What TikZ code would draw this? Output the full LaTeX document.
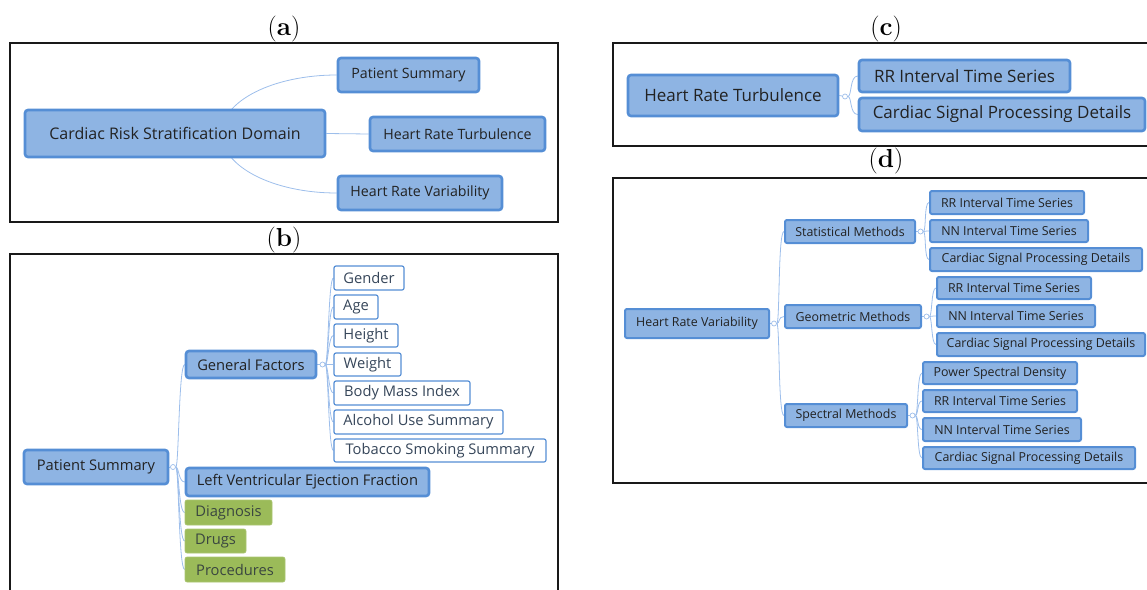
\documentclass[tikz,border=0pt]{standalone}
\usepackage{fontspec}
\newfontfamily\osf{Open Sans}
\usetikzlibrary{backgrounds}
\definecolor{bfill}{HTML}{8EB4E3}
\definecolor{bline}{HTML}{558ED5}
\definecolor{cline}{HTML}{9DBEEB}
\definecolor{gfill}{HTML}{9BBB59}
\definecolor{btext}{HTML}{222222}
\definecolor{wtext}{HTML}{36465A}
\definecolor{gtext}{HTML}{3A4640}
\newcommand\bx[7]{\node[#1, minimum width={#5-#3-2}, minimum height={#6-#4-2}] (#2) at ({(#3+#5)/2},{(#4+#6)/2}) {#7};}
\begin{document}
\begin{tikzpicture}[x=1pt,y=-1pt,
  box/.style={rounded corners=3pt, inner sep=0pt, align=center, text=btext},
  thickbox/.style={box, draw=bline, fill=bfill, line width=2.6pt},
  medbox/.style={box, draw=bline, fill=bfill, line width=2pt, rounded corners=2pt},
  whitebox/.style={box, draw=bline, fill=white, line width=1.2pt, rounded corners=2pt, text=wtext},
  greenbox/.style={box, fill=gfill, draw=gfill!85!white, line width=0.6pt, rounded corners=2pt, text=gtext},
  link/.style={draw=cline, line width=0.8pt},
  knob/.style={circle, draw=cline, fill=white, line width=0.7pt, inner sep=0pt, minimum size=5pt},
  frame/.style={draw=black!90, line width=1.1pt},
  lbl/.style={font=\fontsize{26}{30}\selectfont, inner sep=0pt},
  fa/.style={font=\osf\fontsize{16}{19}\selectfont},
  fb/.style={font=\osf\fontsize{14.2}{17}\selectfont},
  fc/.style={font=\osf\fontsize{14.7}{17}\selectfont},
  fd/.style={font=\osf\fontsize{17}{20}\selectfont},
  fe/.style={font=\osf\fontsize{12.4}{15}\selectfont}]
\useasboundingbox (0,0) rectangle (1147,589);

% panel labels
\node[lbl] (la) at (284,29) {(\textbf{a})};
\node[lbl] (lb) at (284,240) {(\textbf{b})};
\node[lbl] (lc) at (886,29) {(\textbf{c})};
\node[lbl] (ld) at (886,161) {(\textbf{d})};

% frames
\draw[frame] (10,43) rectangle (558,222);
\draw[frame] (10,590) -- (10,254) -- (558,254) -- (558,590);
\draw[frame] (1148,43) -- (613,43) -- (613,146) -- (1148,146);
\draw[frame] (1148,178) -- (613,178) -- (613,483) -- (1148,483);

% ---------- panel (a)
\bx{thickbox,fa}{a0}{24}{109}{326}{158}{Cardiac Risk Stratification Domain}
\bx{thickbox,fb}{a1}{337}{57}{480}{93}{Patient Summary}
\bx{thickbox,fb}{a2}{369}{116}{546}{152}{Heart Rate Turbulence}
\bx{thickbox,fb}{a3}{337}{175}{503}{211}{Heart Rate Variability}

% ---------- panel (b)
\bx{thickbox,fc}{b0}{23}{449}{169}{485}{Patient Summary}
\bx{thickbox,fc}{gf}{185}{350}{317}{379}{General Factors}
\bx{thickbox,fc}{lv}{185}{467}{430}{497}{Left Ventricular Ejection Fraction}
\bx{greenbox,fc}{dg}{184}{499}{273}{526}{Diagnosis}
\bx{greenbox,fc}{dr}{184}{528}{247}{554}{Drugs}
\bx{greenbox,fc}{pr}{184}{556}{286}{583}{Procedures}
\bx{whitebox,fc}{g1}{333}{265}{405}{291}{Gender}
\bx{whitebox,fc}{g2}{333}{294}{379}{320}{Age}
\bx{whitebox,fc}{g3}{333}{323}{399}{348}{Height}
\bx{whitebox,fc}{g4}{333}{352}{402}{377}{Weight}
\bx{whitebox,fc}{g5}{333}{380}{471}{406}{Body Mass Index}
\bx{whitebox,fc}{g6}{333}{409}{504}{435}{Alcohol Use Summary}
\bx{whitebox,fc}{g7}{333}{438}{547}{463}{Tobacco Smoking Summary}
\node[knob] (bk) at (173,467) {};
\node[knob] (gk) at (322.5,364.5) {};

% ---------- panel (c)
\bx{thickbox,fd}{c0}{627}{74}{839}{117}{Heart Rate Turbulence}
\bx{thickbox,fd}{c1}{858}{59}{1071}{93}{RR Interval Time Series}
\bx{thickbox,fd}{c2}{858}{97}{1146}{132}{Cardiac Signal Processing Details}
\node[knob] (ck) at (845,96.5) {};

% ---------- panel (d)
\bx{medbox,fe}{d0}{624}{308}{770}{339}{Heart Rate Variability}
\bx{medbox,fe}{sm}{784}{219}{916}{244}{Statistical Methods}
\bx{medbox,fe}{gm}{784}{304}{922}{329}{Geometric Methods}
\bx{medbox,fe}{sp}{784}{403}{908}{428}{Spectral Methods}
\bx{medbox,fe}{s1}{929}{190}{1085}{215}{RR Interval Time Series}
\bx{medbox,fe}{s2}{929}{219}{1089}{243}{NN Interval Time Series}
\bx{medbox,fe}{s3}{929}{247}{1143}{272}{Cardiac Signal Processing Details}
\bx{medbox,fe}{m1}{936}{276}{1092}{300}{RR Interval Time Series}
\bx{medbox,fe}{m2}{936}{304}{1096}{328}{NN Interval Time Series}
\bx{medbox,fe}{m3}{936}{332}{1146}{357}{Cardiac Signal Processing Details}
\bx{medbox,fe}{p1}{922}{361}{1078}{385}{Power Spectral Density}
\bx{medbox,fe}{p2}{922}{389}{1078}{413}{RR Interval Time Series}
\bx{medbox,fe}{p3}{922}{417}{1082}{442}{NN Interval Time Series}
\bx{medbox,fe}{p4}{922}{446}{1136}{470}{Cardiac Signal Processing Details}
\node[knob] (dk) at (774,323.5) {};
\node[knob] (smk) at (920.5,231.5) {};
\node[knob] (gmk) at (926.5,316.5) {};
\node[knob] (spk) at (912.5,415.5) {};

% ---------- connectors
\begin{pgfonlayer}{background}
  \draw[link] (a1.west) arc[start angle=90, end angle=180, x radius=115pt, y radius=58pt];
  \draw[link] (a3.west) arc[start angle=270, end angle=180, x radius=115pt, y radius=59pt];
  \draw[link] (a0.east) -- (a2.west);

  \draw[link] (b0.east) -- (bk);
  \foreach \c in {gf,lv,dg,dr,pr}
    \draw[link] (bk.east) .. controls +(3,0) and +(-6,0) .. (\c.west);
  \draw[link] (gf.east) -- (gk);
  \foreach \c in {g1,g2,g3,g4,g5,g6,g7}
    \draw[link] (gk.east) .. controls +(3,0) and +(-5,0) .. (\c.west);

  \draw[link] (c0.east) -- (ck);
  \foreach \c in {c1,c2}
    \draw[link] (ck.east) .. controls +(4,0) and +(-8,0) .. (\c.west);

  \draw[link] (d0.east) -- (dk);
  \foreach \c in {sm,gm,sp}
    \draw[link] (dk.east) .. controls +(3,0) and +(-6,0) .. (\c.west);
  \draw[link] (sm.east) -- (smk);
  \foreach \c in {s1,s2,s3}
    \draw[link] (smk.east) .. controls +(3,0) and +(-5,0) .. (\c.west);
  \draw[link] (gm.east) -- (gmk);
  \foreach \c in {m1,m2,m3}
    \draw[link] (gmk.east) .. controls +(3,0) and +(-5,0) .. (\c.west);
  \draw[link] (sp.east) -- (spk);
  \foreach \c in {p1,p2,p3,p4}
    \draw[link] (spk.east) .. controls +(3,0) and +(-5,0) .. (\c.west);
\end{pgfonlayer}
\end{tikzpicture}
\end{document}
